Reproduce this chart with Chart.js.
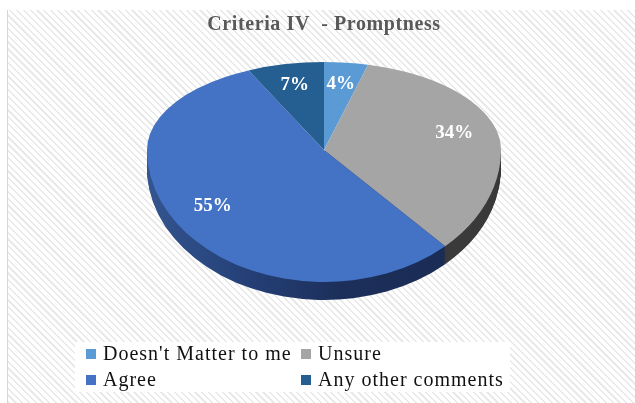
<!DOCTYPE html>
<html><head><meta charset="utf-8">
<script src="https://cdn.jsdelivr.net/npm/chart.js@4.4.1/dist/chart.umd.min.js"></script>
<style>
html,body{margin:0;padding:0;background:#fff;}
#wrap{position:relative;width:635px;height:403px;overflow:hidden;background:#fff;}
#bg{position:absolute;left:7px;top:10px;right:0;bottom:0;border-left:1px solid #d6d6d6;
 background:repeating-linear-gradient(45deg,#e9e9e9 0px,#e9e9e9 1.6px,#ffffff 1.6px,#ffffff 4.8px);}
#c{position:absolute;left:0;top:0;}
</style>
</head><body>
<div id="wrap">
 <div id="bg"></div>
 <canvas id="c" width="635" height="403"></canvas>
</div>
<script>
// ---- data ----
const labels = ["Doesn't Matter to me", "Unsure", "Agree", "Any other comments"];
const values = [4, 34, 55, 7];
const topColors = ["#5B9BD5", "#A5A5A5", "#4472C4", "#255E91"];
const sideColors = ["#2E5A86", "#3a3a3a", "#1E3566", "#163A5C"];
const titleText = "Criteria IV  - Promptness";

// ---- 3D look (style constants) ----
const APEX = {x: 324, y: 150};
const RX = 177, RY_TOP = 88, RY_BOTTOM = 132, DEPTH = 18, LABEL_F = 0.76;
// legend layout (style constants)
const LEG_BOX = {x: 75, y: 342, w: 435, h: 50};
const LEG_COLS = [86, 301], LEG_ROWS = [354, 380];

function applyT(ctx, el, half, dy) {
  const ry = half === 'top' ? RY_TOP : RY_BOTTOM;
  ctx.translate(APEX.x, APEX.y + dy);
  ctx.scale(RX / el.outerRadius, ry / el.outerRadius);
  ctx.translate(-el.x, -el.y);
}

const spacing = {
  id: 'spacing',
  beforeDraw(chart) { chart.ctx.letterSpacing = '0.6px'; }
};

const legend2x2 = {
  id: 'legend2x2',
  afterDraw(chart) {
    const ctx = chart.ctx;
    ctx.save();
    ctx.fillStyle = '#ffffff';
    ctx.fillRect(LEG_BOX.x, LEG_BOX.y, LEG_BOX.w, LEG_BOX.h);
    ctx.letterSpacing = '1px';
    ctx.font = '20px "Liberation Serif", serif';
    ctx.textBaseline = 'middle';
    ctx.textAlign = 'left';
    labels.forEach((l, i) => {
      const x = LEG_COLS[i % 2], y = LEG_ROWS[Math.floor(i / 2)];
      ctx.fillStyle = topColors[i];
      ctx.fillRect(x, y - 5, 10, 10);
      ctx.fillStyle = '#111111';
      ctx.fillText(l, x + 17, y + 1);
    });
    ctx.restore();
  }
};

const pie3d = {
  id: 'pie3d',
  beforeDatasetsDraw(chart) {
    const ctx = chart.ctx;
    const els = chart.getDatasetMeta(0).data;
    const a0 = els[0];
    const W = chart.width, H = chart.height;
    // side walls
    for (let d = DEPTH; d >= 1; d--) {
      ctx.save();
      ctx.beginPath(); ctx.rect(0, APEX.y + d, W, H); ctx.clip();
      applyT(ctx, a0, 'bottom', d);
      els.forEach((el, i) => {
        let fill = sideColors[i];
        if (i === 2) {
          const g = ctx.createLinearGradient(el.x - el.outerRadius, 0, el.x + el.outerRadius, 0);
          g.addColorStop(0, '#34558f');
          g.addColorStop(0.25, '#26427a');
          g.addColorStop(0.55, '#1c2f5a');
          g.addColorStop(1, '#1a2b52');
          fill = g;
        }
        ctx.beginPath();
        ctx.moveTo(el.x, el.y);
        ctx.arc(el.x, el.y, el.outerRadius, el.startAngle, el.endAngle);
        ctx.closePath();
        ctx.fillStyle = fill;
        ctx.fill();
      });
      ctx.restore();
    }
    // top face (two halves)
    ['top', 'bottom'].forEach(h => {
      ctx.save();
      ctx.beginPath();
      if (h === 'top') ctx.rect(0, 0, W, APEX.y); else ctx.rect(0, APEX.y, W, H);
      ctx.clip();
      applyT(ctx, a0, h, 0);
      els.forEach(el => el.draw(ctx));
      ctx.restore();
    });
    // labels
    const total = values.reduce((a, b) => a + b, 0);
    ctx.save();
    ctx.letterSpacing = '0px';
    ctx.fillStyle = '#ffffff';
    ctx.font = 'bold 19px "Liberation Serif", serif';
    ctx.textAlign = 'center';
    ctx.textBaseline = 'middle';
    els.forEach((el, i) => {
      const mid = (el.startAngle + el.endAngle) / 2;
      const ux = Math.cos(mid), uy = Math.sin(mid);
      const x = APEX.x + LABEL_F * RX * ux;
      const y = APEX.y + LABEL_F * (uy < 0 ? RY_TOP : RY_BOTTOM) * uy;
      ctx.fillText(Math.round(values[i] / total * 100) + '%', x, y);
    });
    ctx.restore();
    return false;
  }
};

new Chart(document.getElementById('c'), {
  type: 'pie',
  data: {
    labels: labels,
    datasets: [{data: values, backgroundColor: topColors, borderWidth: 0}]
  },
  options: {
    responsive: false,
    devicePixelRatio: 1,
    animation: false,
    events: [],
    layout: {padding: {left: 13, right: 0, top: 0, bottom: 10}},
    plugins: {
      legend: {display: false},
      tooltip: {enabled: false},
      title: {
        display: true,
        text: titleText,
        color: '#595959',
        font: {family: '"Liberation Serif", serif', size: 20, weight: 'bold', lineHeight: 1.1},
        padding: {top: 14, bottom: 10}
      }
    }
  },
  plugins: [spacing, pie3d, legend2x2]
});
</script>
</body></html>
